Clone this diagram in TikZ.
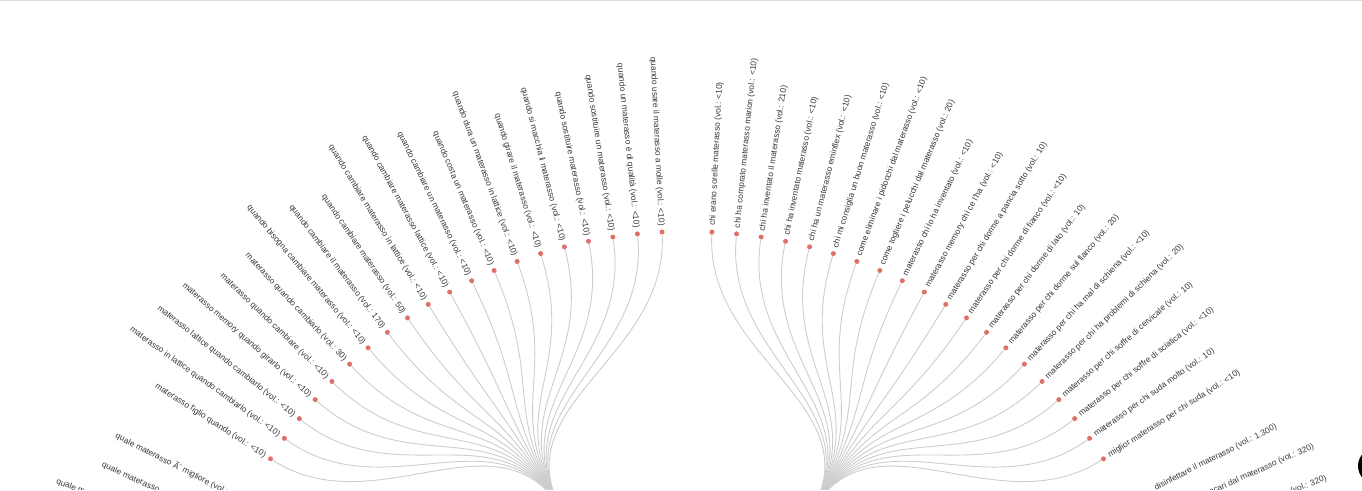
\documentclass[tikz,border=0pt]{standalone}
\usepackage{fontspec}
\setmainfont{Liberation Sans}

\definecolor{linkgray}{RGB}{205,205,205}
\definecolor{dotred}{RGB}{222,112,104}
\definecolor{textgray}{RGB}{55,55,55}

\tikzset{
  leaf/.style={circle, fill=dotred, inner sep=0pt, minimum size=5pt},
  link/.style={draw=linkgray, line width=0.9pt, distance=123.8pt},
  lblR/.style={anchor=mid west, inner sep=0pt, text=textgray, font=\fontsize{8.4}{10}\selectfont},
  lblL/.style={lblR, anchor=mid east},
}

\begin{document}
\begin{tikzpicture}[x=1pt, y=1pt]
\useasboundingbox (-687,236.5) rectangle (675,726.5);
\clip (-687,236.5) rectangle (675,726.5);

% thin border at the top of the page
\draw[black!14, line width=1.2pt] (-687,725.9) -- (675,725.9);

% the two hubs sit below the visible part
\coordinate (hq) at (120.08:247.55);
\coordinate (hc) at (59.92:247.55);

% "quando" branch
\foreach \txt [count=\i] in {
  {quando usare il materasso a molle (vol.: <10)},
  {quando un materasso è di qualità (vol.: <10)},
  {quando sostituire un materasso (vol.: <10)},
  {quando sostituire materasso (vol.: <10)},
  {quando si macchia il materasso (vol.: <10)},
  {quando girare il materasso (vol.: <10)},
  {quando dura un materasso in lattice (vol.: <10)},
  {quando costa un materasso (vol.: <10)},
  {quando cambiare un materasso (vol.: <10)},
  {quando cambiare materasso lattice (vol.: <10)},
  {quando cambiare materasso in lattice (vol.: <10)},
  {quando cambiare materasso (vol.: 50)},
  {quando cambiare il materasso (vol.: 170)},
  {quando bisogna cambiare materasso (vol.: <10)},
  {materasso quando cambiarlo (vol.: 30)},
  {materasso quando cambiare (vol.: <10)},
  {materasso memory quando girarlo (vol.: <10)},
  {materasso lattice quando cambiarlo (vol.: <10)},
  {materasso in lattice quando cambiarlo (vol.: <10)},
  {materasso figlio quando (vol.: <10)}} {
  \pgfmathsetmacro\a{92.89+(\i-1)*2.862}
  \pgfmathsetmacro\b{\a-180}
  \node[leaf] (q\i) at (\a:495.1) {};
  \node[lblL, rotate=\b] (qt\i) at (\a:501.1) {\txt};
  \path (hq) edge[link, out=120.08, in=\b] (q\i);
}

% "chi" branch
\foreach \txt [count=\i] in {
  {chi erano sorelle materasso (vol.: <10)},
  {chi ha comprato materasso marion (vol.: <10)},
  {chi ha inventato il materasso (vol.: 210)},
  {chi ha inventato materasso (vol.: <10)},
  {chi ha un materasso eminflex (vol.: <10)},
  {chi mi consiglia un buon materasso (vol.: <10)},
  {come eliminare i pidocchi dal materasso (vol.: <10)},
  {come togliere i pelucchi dal materasso (vol.: 20)},
  {materasso chi lo ha inventato (vol.: <10)},
  {materasso memory chi ce l'ha (vol.: <10)},
  {materasso per chi dorme a pancia sotto (vol.: 10)},
  {materasso per chi dorme di fianco (vol.: <10)},
  {materasso per chi dorme di lato (vol.: 10)},
  {materasso per chi dorme sul fianco (vol.: 20)},
  {materasso per chi ha mal di schiena (vol.: <10)},
  {materasso per chi ha problemi di schiena (vol.: 20)},
  {materasso per chi soffre di cervicale (vol.: 10)},
  {materasso per chi soffre di sciatica (vol.: <10)},
  {materasso per chi suda molto (vol.: 10)},
  {miglior materasso per chi suda (vol.: <10)}} {
  \pgfmathsetmacro\a{87.11-(\i-1)*2.862}
  \pgfmathsetmacro\b{\a+180}
  \node[leaf] (c\i) at (\a:495.1) {};
  \node[lblR, rotate=\a] (ct\i) at (\a:501.1) {\txt};
  \path (hc) edge[link, out=59.92, in=\b] (c\i);
}

% labels of the next branches, cut by the lower edge
\node[lblR, rotate=-27.01] (qx1) at (152.99:641) {quale materasso Ã¨ migliore (vol.:};
\node[lblR, rotate=-24.14] (qx2) at (155.86:640.7) {quale materasso};
\node[lblR, rotate=-21.28] (qx3) at (158.72:676.5) {quale m};
\node[lblL, rotate=27.01] (cx1) at (27.01:661.5) {disinfettare il materasso (vol.: 1.300)};
\node[lblL, rotate=24.14] (cx2) at (24.14:686.6) {acari dal materasso (vol.: 320)};
\node[lblL, rotate=21.28] (cx3) at (21.28:686.2) {(vol.: 320)};

% dark button at the right edge
\fill[black] (689,260.5) circle (18);
\end{tikzpicture}
\end{document}
